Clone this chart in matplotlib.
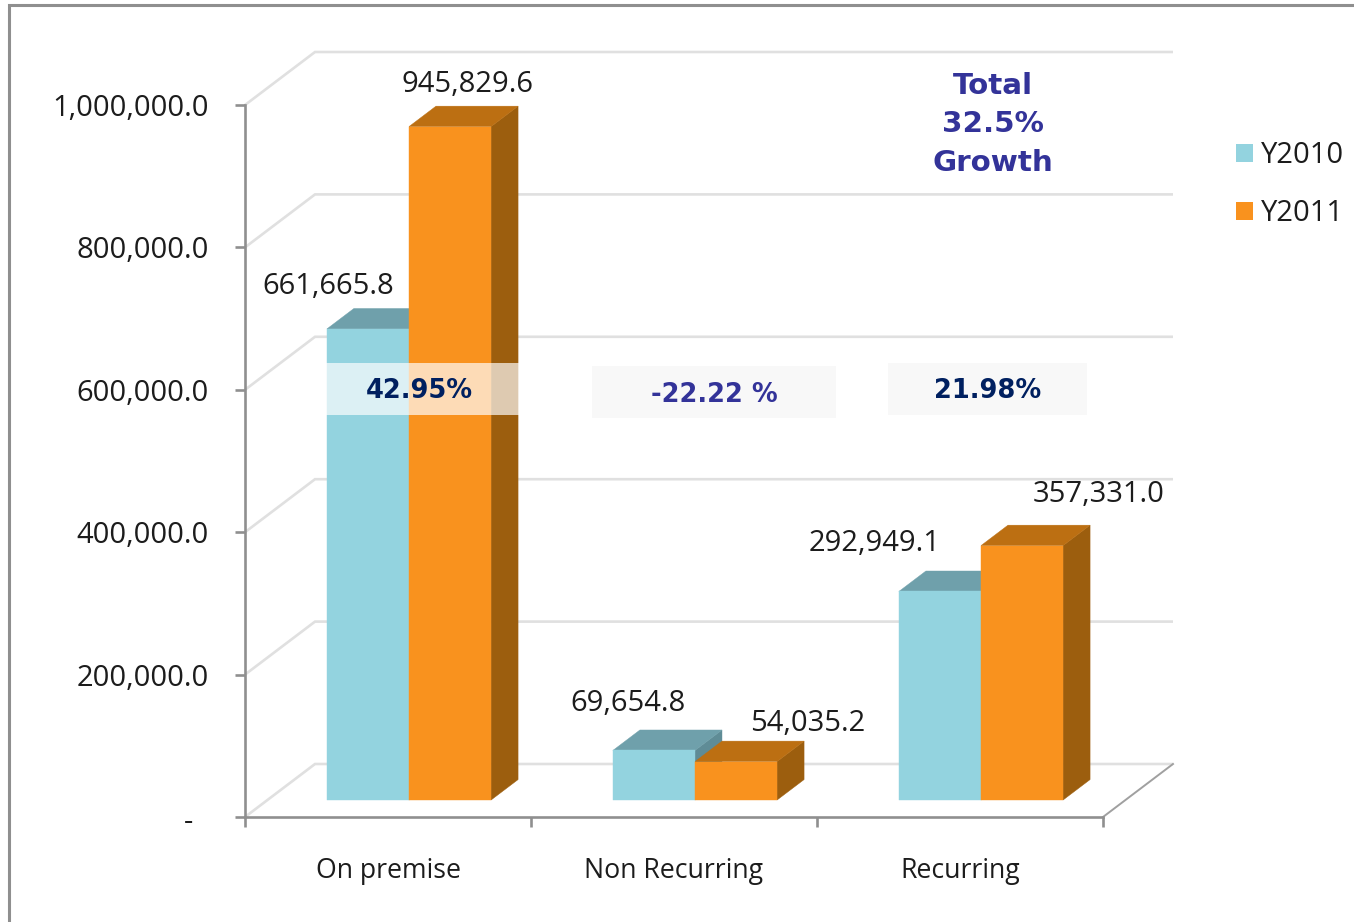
import matplotlib
matplotlib.use("Agg")
import matplotlib.pyplot as plt
from matplotlib.patches import Polygon, Rectangle, Patch
from matplotlib.lines import Line2D
from matplotlib.transforms import ScaledTranslation

categories = ["On premise", "Non Recurring", "Recurring"]
y2010 = [661665.8, 69654.8, 292949.1]
y2011 = [945829.6, 54035.2, 357331.0]
series_names = ["Y2010", "Y2011"]
y_ticks = [0, 200000, 400000, 600000, 800000, 1000000]
y_tick_labels = ["-", "200,000.0", "400,000.0", "600,000.0", "800,000.0", "1,000,000.0"]
growth_labels = ["42.95%", "-22.22 %", "21.98%"]
total_lines = ["Total", "32.5%", "Growth"]

W, H = 1354, 922
FONT = "Open Sans"
TXT = "#1c1c1c"
AXC = "#8f8f8f"
GRID = "#e0e0e0"
plt.rcParams["font.family"] = [FONT, "DejaVu Sans"]

fig = plt.figure(figsize=(W / 100, H / 100), dpi=100, facecolor="white")


def fx(x):
    return x / W


def fy(y):
    return 1 - y / H


ax = fig.add_axes([fx(245), fy(817), 858 / W, 712 / H], facecolor="none")
ax.set_xlim(0, 3)
ax.set_ylim(0, 1000000)

# oblique projection: depth d in 0..1 moves a point towards the back wall
DEPTH_X = 70 / 286
DEPTH_Y = 53 / 712 * 1000000


def proj(x, v, d):
    return (x + d * DEPTH_X, v + d * DEPTH_Y)


# back wall grid lines, left wall diagonals
for v in y_ticks:
    a = proj(0, v, 0)
    b = proj(0, v, 1)
    c = proj(3, v, 1)
    ax.plot([a[0], b[0], c[0]], [a[1], b[1], c[1]], color=GRID, lw=1.9,
            clip_on=False, zorder=1, solid_joinstyle="miter", solid_capstyle="butt")
e0 = proj(3, 0, 0)
e1 = proj(3, 0, 1)
ax.plot([e0[0], e1[0]], [e0[1], e1[1]], color="#a0a0a0", lw=1.4, clip_on=False, zorder=1.5)

# bars
BAR_LEFT = 0.208
BAR_W = 0.287
D0, D1 = 0.32, 0.706
styles = [
    ("#93D3DF", "#6FA0AB", "#5F8C96"),
    ("#F9921E", "#BC6F12", "#9C5E0E"),
]


def bar3d(x0, x1, v, cols, z):
    front, top, side = cols
    fr = [proj(x0, 0, D0), proj(x1, 0, D0), proj(x1, v, D0), proj(x0, v, D0)]
    tp = [proj(x0, v, D0), proj(x1, v, D0), proj(x1, v, D1), proj(x0, v, D1)]
    sd = [proj(x1, 0, D0), proj(x1, 0, D1), proj(x1, v, D1), proj(x1, v, D0)]
    for pts, col in ((sd, side), (tp, top), (fr, front)):
        ax.add_patch(Polygon(pts, closed=True, fc=col, ec=col, lw=0.3, clip_on=False, zorder=z))


for i in range(len(categories)):
    x = i + BAR_LEFT
    bar3d(x, x + BAR_W, y2010[i], styles[0], 2 + i * 0.1)
    bar3d(x + BAR_W, x + 2 * BAR_W, y2011[i], styles[1], 2.05 + i * 0.1)

# axes
for s in ("top", "right"):
    ax.spines[s].set_visible(False)
for s in ("left", "bottom"):
    ax.spines[s].set_color(AXC)
    ax.spines[s].set_linewidth(1.9)
    ax.spines[s].set_zorder(3)
ax.set_yticks(y_ticks)
ax.set_yticklabels(y_tick_labels)
ax.tick_params(axis="y", length=7.5, width=1.9, color=AXC, pad=18.5, labelsize=21, labelcolor=TXT)
ax.set_xticks([0, 1, 2, 3])
ax.set_xticklabels([])
ax.set_xticks([0.5, 1.5, 2.5], minor=True)
ax.set_xticklabels(categories, minor=True)
ax.tick_params(axis="x", which="major", length=7.5, width=1.9, color=AXC)
ax.tick_params(axis="x", which="minor", length=0, pad=28.5, labelsize=19.2, labelcolor=TXT)
zero = ax.get_yticklabels()[0]
zero.set_transform(zero.get_transform() + ScaledTranslation(-16 / 100, -2 / 100, fig.dpi_scale_trans))

# data labels: offset in pixels from the top centre of the bar's front face
offsets_2010 = [(-40, 42), (-26, 47), (-65, 48)]
offsets_2011 = [(17, 42), (72, 38), (77, 51)]
for i in range(len(categories)):
    for j, (vals, offs) in enumerate(((y2010, offsets_2010), (y2011, offsets_2011))):
        v = vals[i]
        xc = i + BAR_LEFT + BAR_W * (j + 0.5)
        ax.annotate(f"{v:,.1f}", xy=proj(xc, v, D0), xytext=offs[i], textcoords="offset pixels",
                    ha="center", va="center", fontsize=21, color=TXT, zorder=6,
                    annotation_clip=False)

# overlay growth boxes
boxes = [(321, 363, 198, 52, "#ffffff", 0.68), (592, 366, 244, 52, "#f8f8f8", 1), (888, 363, 199, 52, "#f8f8f8", 1)]
for bx, by, bw, bh, col, al in boxes:
    fig.add_artist(Rectangle((fx(bx), fy(by + bh)), bw / W, bh / H, transform=fig.transFigure,
                             fc=col, ec="none", alpha=al, zorder=5))
label_pos = [(419, 391, "#002060"), (714, 395, "#333399"), (988, 391, "#002060")]
for (lx, ly, col), t in zip(label_pos, growth_labels):
    fig.text(fx(lx), fy(ly), t, ha="center", va="center", fontsize=18.5, color=col,
             family="DejaVu Sans", fontweight="bold", zorder=7)
for ly, t in zip((86, 124, 163), total_lines):
    fig.text(fx(993), fy(ly), t, ha="center", va="center", fontsize=21.2, color="#333399",
             family="DejaVu Sans", fontweight="bold", zorder=7)

# legend
handles = [Patch(fc=styles[0][0], ec="none"), Patch(fc=styles[1][0], ec="none")]
fig.legend(handles, series_names, loc="upper left", bbox_to_anchor=(fx(1236), fy(141)),
           bbox_transform=fig.transFigure, frameon=False, fontsize=21, labelcolor=TXT,
           handlelength=0.58, handleheight=0.58, handletextpad=0.27, labelspacing=1.0,
           borderpad=0, borderaxespad=0)

# outer frame
fig.add_artist(Line2D([fx(9), fx(9), 1], [0, fy(5), fy(5)], transform=fig.transFigure,
                      color=AXC, lw=2.2, solid_joinstyle="miter"))

fig.savefig("out.png", dpi=100)
